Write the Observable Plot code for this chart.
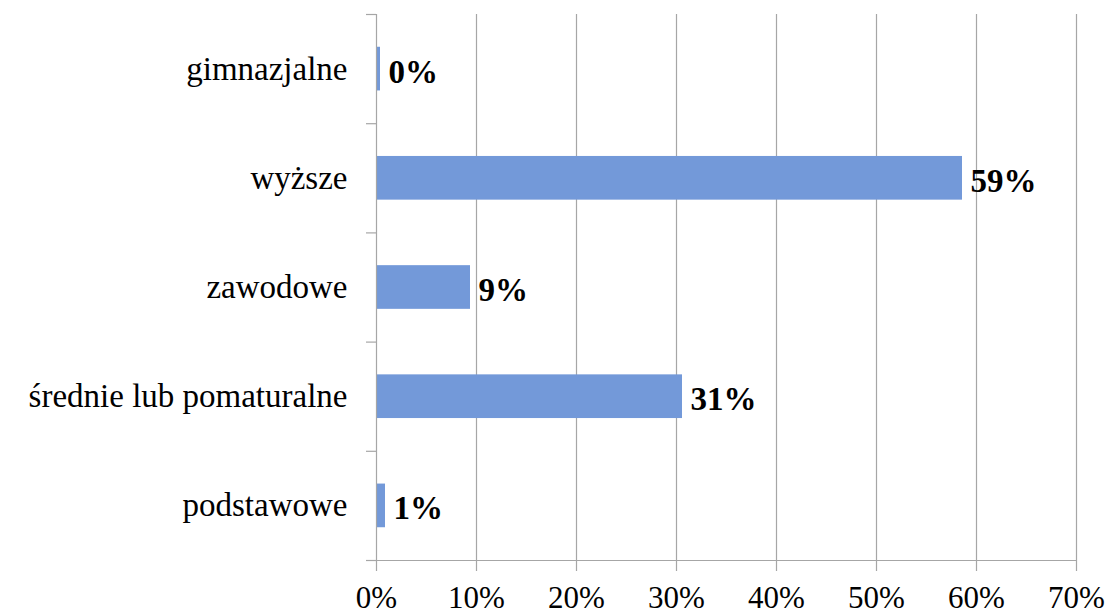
<!DOCTYPE html>
<html>
<head>
<meta charset="utf-8">
<script src="https://cdn.jsdelivr.net/npm/d3@7"></script>
<script src="https://cdn.jsdelivr.net/npm/@observablehq/plot@0.6"></script>
<style>
  html, body { margin: 0; padding: 0; background: #fff; }
</style>
</head>
<body>
<div id="chart"></div>
<script>
// Categories from bottom to top
const categories = ["podstawowe", "średnie lub pomaturalne", "zawodowe", "wyższe", "gimnazjalne"];
const values = [0.9, 30.6, 9.4, 58.6, 0.4];
const valueLabels = ["1%", "31%", "9%", "59%", "0%"];
const xTicks = [0, 10, 20, 30, 40, 50, 60, 70];

const data = categories.map((c, i) => ({cat: c, idx: i, value: values[i], label: valueLabels[i]}));

const chart = Plot.plot({
  width: 1110,
  height: 614,
  marginLeft: 376,
  marginRight: 34,
  marginTop: 14,
  marginBottom: 54,
  style: {fontFamily: "'Liberation Serif', serif", color: "#000", background: "#fff"},
  x: {domain: [0, 70], label: null},
  y: {domain: [0, categories.length], label: null},
  marks: [
    Plot.ruleX(xTicks.filter(d => d > 0), {y1: 0, y2: categories.length, stroke: "#a6a6a6", strokeWidth: 1.2}),
    Plot.axisX({ticks: xTicks, tickSize: 11, tickPadding: 14, tickFormat: d => d + "%", fontSize: 31, stroke: "#a6a6a6", strokeWidth: 1.2, fill: "#000", label: null}),
    Plot.axisY({ticks: d3.range(categories.length + 1), tickSize: 10, tickFormat: () => "", stroke: "#a6a6a6", strokeWidth: 1.2, label: null}),
    Plot.rectX(data, {x1: 0, x2: "value", y1: d => d.idx + 0.3, y2: d => d.idx + 0.7, fill: "#7399d9", ariaLabel: "bars"}),
    Plot.ruleX([0], {y1: 0, y2: categories.length, stroke: "#a6a6a6", strokeWidth: 1.2}),
    Plot.ruleY([0], {x1: 0, x2: 70, stroke: "#a6a6a6", strokeWidth: 1.2}),
    Plot.text(data, {x: 0, y: d => d.idx + 0.5, text: "cat", textAnchor: "end", dx: -29, fontSize: 33, fill: "#000"}),
    Plot.text(data, {x: "value", y: d => d.idx + 0.5, text: "label", textAnchor: "start", dx: 8, dy: 3, fontSize: 33, fontWeight: "bold", fill: "#000"})
  ]
});

// drop shadow for bars (as in the original)
const svg = d3.select(chart);
const defs = svg.insert("defs", ":first-child");
const f = defs.append("filter").attr("id", "barShadow").attr("x", "-20%").attr("y", "-20%").attr("width", "150%").attr("height", "150%");
f.append("feDropShadow").attr("dx", 2).attr("dy", 3).attr("stdDeviation", 2).attr("flood-color", "#000").attr("flood-opacity", 0.35);
svg.select('g[aria-label="bars"]').attr("filter", "url(#barShadow)");

document.getElementById("chart").appendChild(chart);
</script>
</body>
</html>
